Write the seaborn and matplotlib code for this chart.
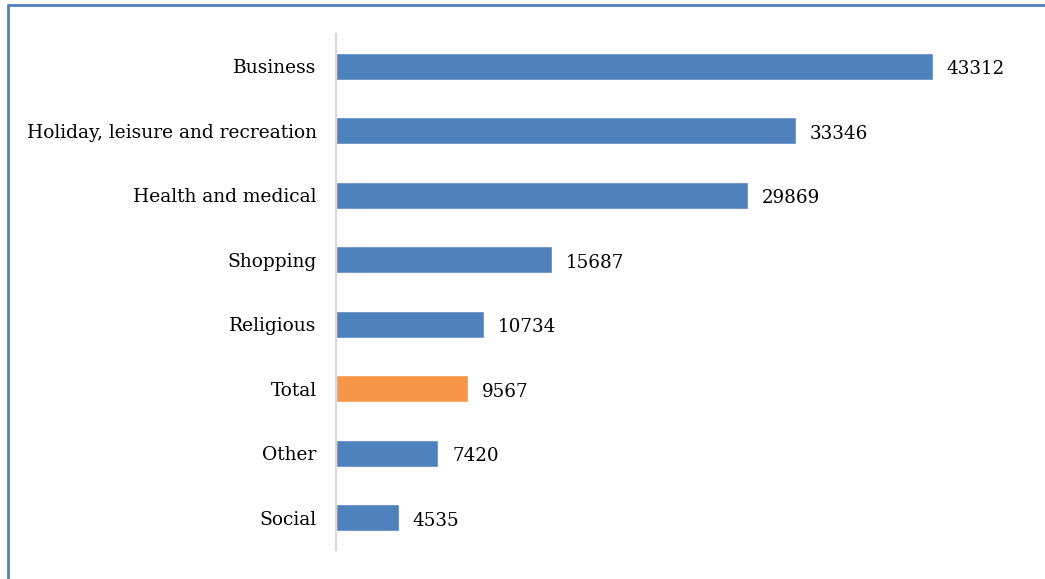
import pandas as pd
import matplotlib
matplotlib.use('Agg')
import matplotlib.pyplot as plt
import seaborn as sns
from matplotlib.lines import Line2D

categories = ['Business', 'Holiday, leisure and recreation', 'Health and medical',
              'Shopping', 'Religious', 'Total', 'Other', 'Social']
values = [43312, 33346, 29869, 15687, 10734, 9567, 7420, 4535]

BLUE = '#4f81bd'
ORANGE = '#f79646'

sns.set_style('white')
plt.rcParams['font.family'] = ['DejaVu Serif']

df = pd.DataFrame({'purpose': categories, 'spend': values})
palette = {c: (ORANGE if c == 'Total' else BLUE) for c in categories}

fig = plt.figure(figsize=(10.45, 5.79), dpi=100)
ax = fig.add_axes([336 / 1045, 1 - 550 / 579, (1020 - 336) / 1045, (550 - 34) / 579])

sns.barplot(data=df, x='spend', y='purpose', hue='purpose', palette=palette,
            order=categories, width=0.42, legend=False, ax=ax, saturation=1)

for i, v in enumerate(values):
    ax.text(v + 1000, i + 0.05, str(v), va='center', ha='left', fontsize=13.2,
            color='black')

ax.set_xlim(0, 49630)
ax.set_ylim(7.5, -0.5)
ax.set_xlabel('')
ax.set_ylabel('')
ax.set_xticks([])
ax.tick_params(axis='y', length=0, labelsize=13.4, pad=14, labelcolor='black')
for side in ['top', 'right', 'bottom']:
    ax.spines[side].set_visible(False)
ax.spines['left'].set_color('#d9d9d9')
ax.spines['left'].set_linewidth(1.5)

# chart frame (top and left edges visible)
fig.add_artist(Line2D([8 / 1045, 1], [1 - 5 / 579, 1 - 5 / 579],
                      transform=fig.transFigure, color=BLUE, lw=2))
fig.add_artist(Line2D([8 / 1045, 8 / 1045], [0, 1 - 5 / 579],
                      transform=fig.transFigure, color=BLUE, lw=2))

fig.savefig('out.png', dpi=100)
